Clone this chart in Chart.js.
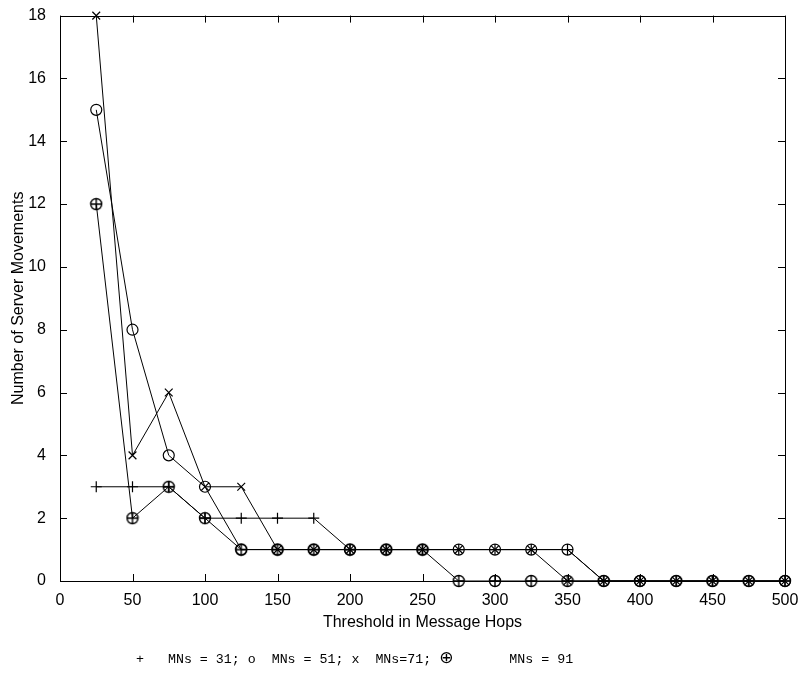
<!DOCTYPE html>
<html>
<head>
<meta charset="utf-8">
<script src="https://cdn.jsdelivr.net/npm/chart.js@4.4.0/dist/chart.umd.min.js"></script>
<style>
  body { margin: 0; background: #fff; }
  #wrap { position: relative; width: 802px; height: 673px; }
  #legendText {
    position: absolute; left: 136px; top: 651px;
    font-family: "Liberation Mono", "DejaVu Sans Mono", monospace;
    font-size: 13.3px; white-space: pre; color: #000;
  }
  #legendText .sym { font-family: "DejaVu Sans", sans-serif; font-size: 17px; line-height: 13px; }
</style>
</head>
<body>
<div id="wrap">
  <canvas id="myChart"></canvas>
  <div id="legendText">+   MNs = 31; o  MNs = 51; x  MNs=71; <span class="sym">⊕</span>       MNs = 91</div>
</div>
<script>
// threshold values (message hops)
var hops = [25, 50, 75, 100, 125, 150, 175, 200, 225, 250, 275, 300, 325, 350, 375, 400, 425, 450, 475, 500];
var mns31 = [3, 3, 3, 2, 2, 2, 2, 1, 1, 1, 1, 1, 1, 1, 0, 0, 0, 0, 0, 0];
var mns51 = [15, 8, 4, 3, 1, 1, 1, 1, 1, 1, 1, 1, 1, 1, 0, 0, 0, 0, 0, 0];
var mns71 = [18, 4, 6, 3, 3, 1, 1, 1, 1, 1, 1, 1, 1, 0, 0, 0, 0, 0, 0, 0];
var mns91 = [12, 2, 3, 2, 1, 1, 1, 1, 1, 1, 0, 0, 0, 0, 0, 0, 0, 0, 0, 0];

function toPoints(vals) {
    return vals.map(function (v, i) { return { x: hops[i], y: v }; });
}

// circle with a plus inside
var oplus = document.createElement('canvas');
oplus.width = 14;
oplus.height = 14;
(function () {
    var c = oplus.getContext('2d');
    c.strokeStyle = '#000';
    c.lineWidth = 1.4;
    c.beginPath();
    c.arc(7, 7, 5.5, 0, Math.PI * 2);
    c.moveTo(7, 1.5); c.lineTo(7, 12.5);
    c.moveTo(1.5, 7); c.lineTo(12.5, 7);
    c.stroke();
})();

var boxTicks = {
    id: 'boxTicks',
    afterDraw: function (chart) {
        var ctx = chart.ctx;
        var a = chart.chartArea;
        var xs = chart.scales.x, ys = chart.scales.y;
        ctx.save();
        ctx.strokeStyle = '#000';
        ctx.lineWidth = 1;
        ctx.beginPath();
        ctx.rect(Math.round(a.left) + 0.5, Math.round(a.top) + 0.5,
            Math.round(a.right - a.left), Math.round(a.bottom - a.top));
        var len = 7;
        xs.ticks.forEach(function (t) {
            var px = Math.round(xs.getPixelForValue(t.value)) + 0.5;
            ctx.moveTo(px, a.bottom); ctx.lineTo(px, a.bottom - len);
            ctx.moveTo(px, a.top); ctx.lineTo(px, a.top + len);
        });
        ys.ticks.forEach(function (t) {
            var py = Math.round(ys.getPixelForValue(t.value)) + 0.5;
            ctx.moveTo(a.left, py); ctx.lineTo(a.left + len, py);
            ctx.moveTo(a.right, py); ctx.lineTo(a.right - len, py);
        });
        ctx.stroke();
        ctx.restore();
    }
};

var common = {
    borderColor: '#000',
    borderWidth: 1,
    pointBorderColor: '#000',
    pointBackgroundColor: 'rgba(0,0,0,0)',
    pointBorderWidth: 1.2,
    pointRadius: 5.5,
    tension: 0,
    clip: false
};

var ctx = document.getElementById('myChart');
var myChart = new Chart(ctx, {
    type: 'line',
    data: {
        datasets: [
            Object.assign({ label: 'MNs = 31', data: toPoints(mns31), pointStyle: 'cross' }, common),
            Object.assign({ label: 'MNs = 51', data: toPoints(mns51), pointStyle: 'circle' }, common),
            Object.assign({ label: 'MNs=71', data: toPoints(mns71), pointStyle: 'crossRot' }, common),
            Object.assign({ label: 'MNs = 91', data: toPoints(mns91), pointStyle: oplus }, common)
        ]
    },
    options: {
        responsive: true,
        maintainAspectRatio: false,
        animation: false,
        layout: { padding: { left: 5, right: 17, top: 15, bottom: 39 } },
        plugins: { legend: { display: false }, tooltip: { enabled: false } },
        scales: {
            x: {
                type: 'linear',
                min: 0,
                max: 500,
                grid: { display: false },
                border: { display: false },
                ticks: { stepSize: 50, color: '#000', padding: 2, maxRotation: 0,
                    font: { family: 'Liberation Sans', size: 16 } },
                title: { display: true, text: 'Threshold in Message Hops', color: '#000',
                    padding: { top: 0, bottom: 2 },
                    font: { family: 'Liberation Sans', size: 16 } },
                afterFit: function (s) { s.height = 53; }
            },
            y: {
                min: 0,
                max: 18,
                grid: { display: false },
                border: { display: false },
                ticks: { stepSize: 2, color: '#000', padding: 6,
                    font: { family: 'Liberation Sans', size: 16 } },
                title: { display: true, text: 'Number of Server Movements', color: '#000',
                    padding: { top: 4, bottom: 0 },
                    font: { family: 'Liberation Sans', size: 16 } },
                afterFit: function (s) { s.width = 55; }
            }
        }
    },
    plugins: [boxTicks]
});
</script>
</body>
</html>
